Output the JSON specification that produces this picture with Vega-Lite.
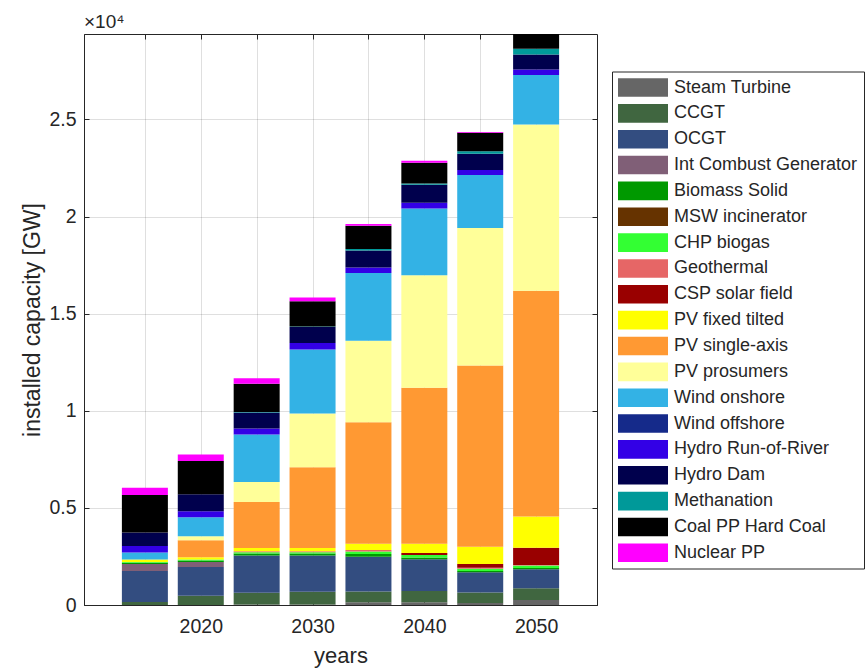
{
  "$schema": "https://vega.github.io/schema/vega-lite/v6.json",
  "width": 513,
  "height": 571,
  "autosize": {"type": "none"},
  "padding": {"left": 84, "top": 34, "right": 271, "bottom": 64},
  "background": "white",
  "title": {"text": "×10⁴", "anchor": "start", "frame": "group", "fontSize": 19, "fontWeight": "normal", "offset": 2, "color": "#262626", "font": "Liberation Sans"},
  "config": {
    "font": "Liberation Sans",
    "view": {"stroke": "#262626", "strokeWidth": 1},
    "axis": {
      "domainColor": "#262626",
      "tickColor": "#262626",
      "labelColor": "#262626",
      "titleColor": "#262626",
      "labelFont": "Liberation Sans",
      "titleFont": "Liberation Sans",
      "labelFontSize": 19.5,
      "titleFontWeight": "normal",
      "gridColor": "#262626",
      "gridOpacity": 0.15,
      "zindex": 1
    }
  },
  "data": {"values": [
    {"year": 2015, "tech": "CCGT", "gw": 150},
    {"year": 2015, "tech": "OCGT", "gw": 1600},
    {"year": 2015, "tech": "Int Combust Generator", "gw": 360},
    {"year": 2015, "tech": "Biomass Solid", "gw": 60},
    {"year": 2015, "tech": "CHP biogas", "gw": 50},
    {"year": 2015, "tech": "PV fixed tilted", "gw": 120},
    {"year": 2015, "tech": "Wind onshore", "gw": 360},
    {"year": 2015, "tech": "Hydro Run-of-River", "gw": 340},
    {"year": 2015, "tech": "Hydro Dam", "gw": 690},
    {"year": 2015, "tech": "Coal PP Hard Coal", "gw": 1930},
    {"year": 2015, "tech": "Nuclear PP", "gw": 380},

    {"year": 2020, "tech": "CCGT", "gw": 480},
    {"year": 2020, "tech": "OCGT", "gw": 1480},
    {"year": 2020, "tech": "Int Combust Generator", "gw": 260},
    {"year": 2020, "tech": "Biomass Solid", "gw": 70},
    {"year": 2020, "tech": "CHP biogas", "gw": 50},
    {"year": 2020, "tech": "PV fixed tilted", "gw": 120},
    {"year": 2020, "tech": "PV single-axis", "gw": 876},
    {"year": 2020, "tech": "PV prosumers", "gw": 206},
    {"year": 2020, "tech": "Wind onshore", "gw": 980},
    {"year": 2020, "tech": "Hydro Run-of-River", "gw": 310},
    {"year": 2020, "tech": "Hydro Dam", "gw": 876},
    {"year": 2020, "tech": "Coal PP Hard Coal", "gw": 1700},
    {"year": 2020, "tech": "Nuclear PP", "gw": 345},

    {"year": 2025, "tech": "Steam Turbine", "gw": 30},
    {"year": 2025, "tech": "CCGT", "gw": 600},
    {"year": 2025, "tech": "OCGT", "gw": 1925},
    {"year": 2025, "tech": "Biomass Solid", "gw": 100},
    {"year": 2025, "tech": "CHP biogas", "gw": 60},
    {"year": 2025, "tech": "Geothermal", "gw": 50},
    {"year": 2025, "tech": "PV fixed tilted", "gw": 170},
    {"year": 2025, "tech": "PV single-axis", "gw": 2370},
    {"year": 2025, "tech": "PV prosumers", "gw": 1030},
    {"year": 2025, "tech": "Wind onshore", "gw": 2440},
    {"year": 2025, "tech": "Hydro Run-of-River", "gw": 310},
    {"year": 2025, "tech": "Hydro Dam", "gw": 825},
    {"year": 2025, "tech": "Methanation", "gw": 30},
    {"year": 2025, "tech": "Coal PP Hard Coal", "gw": 1450},
    {"year": 2025, "tech": "Nuclear PP", "gw": 290},

    {"year": 2030, "tech": "Steam Turbine", "gw": 30},
    {"year": 2030, "tech": "CCGT", "gw": 650},
    {"year": 2030, "tech": "OCGT", "gw": 1870},
    {"year": 2030, "tech": "Biomass Solid", "gw": 100},
    {"year": 2030, "tech": "CHP biogas", "gw": 70},
    {"year": 2030, "tech": "Geothermal", "gw": 50},
    {"year": 2030, "tech": "PV fixed tilted", "gw": 170},
    {"year": 2030, "tech": "PV single-axis", "gw": 4150},
    {"year": 2030, "tech": "PV prosumers", "gw": 2770},
    {"year": 2030, "tech": "Wind onshore", "gw": 3300},
    {"year": 2030, "tech": "Hydro Run-of-River", "gw": 325},
    {"year": 2030, "tech": "Hydro Dam", "gw": 825},
    {"year": 2030, "tech": "Methanation", "gw": 30},
    {"year": 2030, "tech": "Coal PP Hard Coal", "gw": 1300},
    {"year": 2030, "tech": "Nuclear PP", "gw": 190},

    {"year": 2035, "tech": "Steam Turbine", "gw": 140},
    {"year": 2035, "tech": "CCGT", "gw": 550},
    {"year": 2035, "tech": "OCGT", "gw": 1800},
    {"year": 2035, "tech": "Biomass Solid", "gw": 140},
    {"year": 2035, "tech": "CHP biogas", "gw": 120},
    {"year": 2035, "tech": "Geothermal", "gw": 85},
    {"year": 2035, "tech": "PV fixed tilted", "gw": 325},
    {"year": 2035, "tech": "PV single-axis", "gw": 6250},
    {"year": 2035, "tech": "PV prosumers", "gw": 4190},
    {"year": 2035, "tech": "Wind onshore", "gw": 3490},
    {"year": 2035, "tech": "Hydro Run-of-River", "gw": 290},
    {"year": 2035, "tech": "Hydro Dam", "gw": 876},
    {"year": 2035, "tech": "Methanation", "gw": 70},
    {"year": 2035, "tech": "Coal PP Hard Coal", "gw": 1200},
    {"year": 2035, "tech": "Nuclear PP", "gw": 86},

    {"year": 2040, "tech": "Steam Turbine", "gw": 140},
    {"year": 2040, "tech": "CCGT", "gw": 585},
    {"year": 2040, "tech": "OCGT", "gw": 1630},
    {"year": 2040, "tech": "Biomass Solid", "gw": 85},
    {"year": 2040, "tech": "CHP biogas", "gw": 140},
    {"year": 2040, "tech": "CSP solar field", "gw": 100},
    {"year": 2040, "tech": "PV fixed tilted", "gw": 480},
    {"year": 2040, "tech": "PV single-axis", "gw": 8025},
    {"year": 2040, "tech": "PV prosumers", "gw": 5790},
    {"year": 2040, "tech": "Wind onshore", "gw": 3440},
    {"year": 2040, "tech": "Hydro Run-of-River", "gw": 290},
    {"year": 2040, "tech": "Hydro Dam", "gw": 930},
    {"year": 2040, "tech": "Methanation", "gw": 70},
    {"year": 2040, "tech": "Coal PP Hard Coal", "gw": 1065},
    {"year": 2040, "tech": "Nuclear PP", "gw": 100},

    {"year": 2045, "tech": "Steam Turbine", "gw": 100},
    {"year": 2045, "tech": "CCGT", "gw": 550},
    {"year": 2045, "tech": "OCGT", "gw": 1030},
    {"year": 2045, "tech": "Biomass Solid", "gw": 70},
    {"year": 2045, "tech": "CHP biogas", "gw": 120},
    {"year": 2045, "tech": "Geothermal", "gw": 50},
    {"year": 2045, "tech": "CSP solar field", "gw": 190},
    {"year": 2045, "tech": "PV fixed tilted", "gw": 890},
    {"year": 2045, "tech": "PV single-axis", "gw": 9330},
    {"year": 2045, "tech": "PV prosumers", "gw": 7080},
    {"year": 2045, "tech": "Wind onshore", "gw": 2730},
    {"year": 2045, "tech": "Hydro Run-of-River", "gw": 258},
    {"year": 2045, "tech": "Hydro Dam", "gw": 840},
    {"year": 2045, "tech": "Methanation", "gw": 120},
    {"year": 2045, "tech": "Coal PP Hard Coal", "gw": 960},
    {"year": 2045, "tech": "Nuclear PP", "gw": 30},

    {"year": 2050, "tech": "Steam Turbine", "gw": 258},
    {"year": 2050, "tech": "CCGT", "gw": 600},
    {"year": 2050, "tech": "OCGT", "gw": 980},
    {"year": 2050, "tech": "Biomass Solid", "gw": 70},
    {"year": 2050, "tech": "CHP biogas", "gw": 120},
    {"year": 2050, "tech": "Geothermal", "gw": 35},
    {"year": 2050, "tech": "CSP solar field", "gw": 890},
    {"year": 2050, "tech": "PV fixed tilted", "gw": 1600},
    {"year": 2050, "tech": "PV single-axis", "gw": 11630},
    {"year": 2050, "tech": "PV prosumers", "gw": 8560},
    {"year": 2050, "tech": "Wind onshore", "gw": 2540},
    {"year": 2050, "tech": "Hydro Run-of-River", "gw": 290},
    {"year": 2050, "tech": "Hydro Dam", "gw": 775},
    {"year": 2050, "tech": "Methanation", "gw": 290},
    {"year": 2050, "tech": "Coal PP Hard Coal", "gw": 1100},
    {"year": 2050, "tech": "Nuclear PP", "gw": 50}
  ]},
  "transform": [
    {"calculate": "indexof(['Steam Turbine', 'CCGT', 'OCGT', 'Int Combust Generator', 'Biomass Solid', 'MSW incinerator', 'CHP biogas', 'Geothermal', 'CSP solar field', 'PV fixed tilted', 'PV single-axis', 'PV prosumers', 'Wind onshore', 'Wind offshore', 'Hydro Run-of-River', 'Hydro Dam', 'Methanation', 'Coal PP Hard Coal', 'Nuclear PP'], datum.tech)", "as": "ord"}
  ],
  "layer": [
    {
      "mark": {"type": "bar", "width": 46, "clip": true},
      "encoding": {
        "x": {
          "field": "year", "type": "quantitative",
          "scale": {"domain": [2010, 2055], "nice": false, "zero": false},
          "axis": {
            "title": "years", "titleFontSize": 22, "titlePadding": 10,
            "values": [2015, 2020, 2025, 2030, 2035, 2040, 2045, 2050],
            "labelExpr": "datum.value % 10 === 0 ? '' + datum.value : ''",
            "tickSize": -5, "labelPadding": 17, "grid": true, "labelFlush": false
          }
        },
        "y": {
          "field": "gw", "type": "quantitative", "stack": "zero",
          "scale": {"domain": [0, 29400], "nice": false},
          "axis": {
            "title": "installed capacity [GW]", "titleFontSize": 23, "titlePadding": 4,
            "values": [0, 5000, 10000, 15000, 20000, 25000],
            "labelExpr": "'' + (datum.value / 10000)",
            "tickSize": -5, "labelPadding": 13, "grid": true
          }
        },
        "order": {"field": "ord", "type": "quantitative", "sort": "ascending"},
        "color": {
          "field": "tech", "type": "nominal",
          "scale": {
            "domain": ["Steam Turbine", "CCGT", "OCGT", "Int Combust Generator", "Biomass Solid", "MSW incinerator", "CHP biogas", "Geothermal", "CSP solar field", "PV fixed tilted", "PV single-axis", "PV prosumers", "Wind onshore", "Wind offshore", "Hydro Run-of-River", "Hydro Dam", "Methanation", "Coal PP Hard Coal", "Nuclear PP"],
            "range": ["#666666", "#406640", "#334d80", "#805f77", "#009900", "#663300", "#33ff33", "#e66666", "#990000", "#ffff00", "#ff9933", "#ffff99", "#33b2e5", "#152a8a", "#3300e6", "#00004d", "#009999", "#000000", "#ff00ff"]
          },
          "legend": {
            "orient": "none", "legendX": 528, "legendY": 37.5,
            "title": null,
            "symbolType": "M-1,-0.93H4V0.93H-1Z",
            "symbolSize": 400, "symbolStrokeWidth": 0, "symbolOpacity": 1,
            "labelFontSize": 18, "labelFont": "Liberation Sans", "labelColor": "#262626",
            "labelOffset": 36, "rowPadding": 5.85, "padding": 6,
            "strokeColor": "#262626", "fillColor": "white", "labelLimit": 300
          }
        }
      }
    },
    {
      "mark": {"type": "rule", "opacity": 0},
      "encoding": {
        "x": {
          "datum": 2030, "type": "quantitative",
          "scale": {"domain": [2010, 2055], "nice": false, "zero": false},
          "axis": {"orient": "top", "title": null, "labels": false, "grid": false, "domain": false,
                   "values": [2015, 2020, 2025, 2030, 2035, 2040, 2045, 2050], "tickSize": -5}
        },
        "y": {
          "datum": 0, "type": "quantitative",
          "scale": {"domain": [0, 29400], "nice": false},
          "axis": {"orient": "right", "title": null, "labels": false, "grid": false, "domain": false,
                   "values": [0, 5000, 10000, 15000, 20000, 25000], "tickSize": -5}
        }
      }
    }
  ],
  "resolve": {"axis": {"x": "independent", "y": "independent"}}
}
